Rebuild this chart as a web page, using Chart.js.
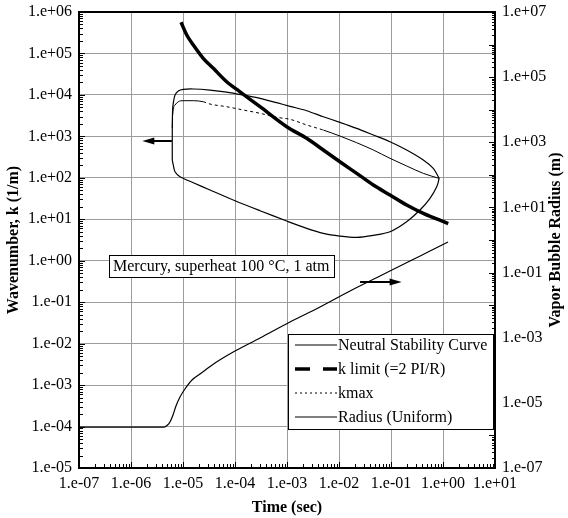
<!DOCTYPE html>
<html>
<head>
<meta charset="utf-8">
<style>
  html, body { margin: 0; padding: 0; background: #fff; overflow: hidden; }
  canvas { display: block; }
</style>
<script src="https://cdn.jsdelivr.net/npm/chart.js@4.4.1/dist/chart.umd.min.js"></script>
</head>
<body>
<canvas id="bubbleChart" width="568" height="518"></canvas>
<script>
// axis ticks (Excel style "1.e+00" labels)
const timeTicks = [1e-7, 1e-6, 1e-5, 1e-4, 1e-3, 1e-2, 1e-1, 1e0, 1e1];
const timeTickLabels = ['1.e-07', '1.e-06', '1.e-05', '1.e-04', '1.e-03', '1.e-02', '1.e-01', '1.e+00', '1.e+01'];
const kTicks = [1e-5, 1e-4, 1e-3, 1e-2, 1e-1, 1e0, 1e1, 1e2, 1e3, 1e4, 1e5, 1e6];
const kTickLabels = ['1.e-05', '1.e-04', '1.e-03', '1.e-02', '1.e-01', '1.e+00', '1.e+01', '1.e+02', '1.e+03', '1.e+04', '1.e+05', '1.e+06'];
const radiusTicks = [1e-7, 1e-5, 1e-3, 1e-1, 1e1, 1e3, 1e5, 1e7];
const radiusTickLabels = ['1.e-07', '1.e-05', '1.e-03', '1.e-01', '1.e+01', '1.e+03', '1.e+05', '1.e+07'];

// neutral stability curve: closed loop, upper branch out then lower branch back
const neutralTime = [6.22e-6, 6.22e-6, 6.31e-6, 6.50e-6, 7.02e-6, 8.12e-6, 1.01e-5, 1.58e-5, 3.30e-5, 6.92e-5,
  1.68e-4, 3.03e-4, 6.34e-4, 1.14e-3, 2.39e-3, 4.99e-3, 1.04e-2, 2.19e-2, 4.57e-2, 9.57e-2,
  0.200, 0.418, 0.650, 0.812, 0.84, 0.757, 0.562, 0.361, 0.200, 9.57e-2,
  4.57e-2, 2.19e-2, 1.04e-2, 4.99e-3, 2.39e-3, 9.87e-4, 3.03e-4, 1.0e-4, 3.30e-5, 1.58e-5,
  8.75e-6, 7.02e-6, 6.50e-6, 6.22e-6];
const neutralK = [269, 1422, 4322, 6270, 9950, 12400, 13600, 13900, 13100, 11700,
  9570, 8280, 6490, 5310, 4160, 2980, 2180, 1560, 1080, 743,
  469, 269, 169, 106, 97, 61.0, 32.0, 16.7, 8.73, 5.01,
  4.10, 3.66, 3.94, 4.58, 6.05, 9.08, 16.1, 28.0, 50.8, 76.2,
  106, 140, 204, 269];

// k limit (=2 PI/R)
const kLimitTime = [9.16e-6, 1.18e-5, 1.58e-5, 2.45e-5, 3.83e-5, 6.92e-5, 1.25e-4, 3.03e-4, 9.87e-4, 2.39e-3,
  4.99e-3, 1.04e-2, 2.19e-2, 4.57e-2, 9.57e-2, 0.200, 0.418, 1.26];
const kLimitK = [5.65e5, 2.79e5, 1.60e5, 7.64e4, 4.38e4, 2.08e4, 1.19e4, 5190, 1710, 897,
  469, 244, 128, 67.0, 38.5, 22.1, 13.9, 7.89];

// kmax
const kmaxTime = [6.22e-6, 6.31e-6, 7.02e-6, 8.12e-6, 1.01e-5, 1.58e-5, 2.45e-5, 3.30e-5, 6.92e-5, 1.45e-4,
  3.03e-4, 6.34e-4, 1.14e-3, 2.39e-3, 4.99e-3, 1.04e-2, 2.19e-2, 4.57e-2, 9.57e-2, 0.200,
  0.418, 0.84];
const kmaxK = [1590, 3270, 5700, 6850, 7250, 7250, 6850, 6030, 5190, 4320,
  3600, 2880, 2580, 1880, 1420, 1020, 703, 469, 295, 193,
  128, 97];

// bubble radius (right axis, m)
const radiusTime = [1e-7, 4.32e-6, 4.92e-6, 5.62e-6, 6.42e-6, 7.33e-6, 8.75e-6, 1.09e-5, 1.49e-5, 2.12e-5,
  4.12e-5, 1e-4, 3.03e-4, 1.14e-3, 4.31e-3, 1.63e-2, 6.14e-2, 0.232, 0.562, 1.25];
const radiusM = [1.8e-6, 1.8e-6, 2.01e-6, 2.58e-6, 4.24e-6, 8.0e-6, 1.51e-5, 2.66e-5, 5.02e-5, 7.67e-5,
  1.67e-4, 3.91e-4, 9.8e-4, 3.03e-3, 8.77e-3, 2.72e-2, 7.84e-2, 0.226, 0.459, 0.867];

const serif = "'Liberation Serif', 'Times New Roman', serif";
const gridColor = '#9c9c9c';

function toPoints(xs, ys) {
	return xs.map((x, i) => ({ x: x, y: ys[i] }));
}

// legend entries: line sample style for each
const legendItems = [
	{ text: 'Neutral Stability Curve', width: 1.2, dash: [] },
	{ text: 'k limit (=2 PI/R)', width: 3.5, dash: [15, 13] },
	{ text: 'kmax', width: 1, dash: [2, 3] },
	{ text: 'Radius (Uniform)', width: 1.2, dash: [] }
];

// arrows pointing to the axis each curve group belongs to (data units)
const arrows = [
	{ axis: 'y', from: [6.1e-6, 773], to: [1.65e-6, 773] },
	{ axis: 'y2', from: [0.0254, 0.0513], to: [0.16, 0.0513] }
];

function logTickList(min, max) {
	const out = [];
	const lo = Math.round(Math.log10(min)), hi = Math.round(Math.log10(max));
	for (let e = lo; e <= hi; e++) {
		for (let m = 1; m <= 9; m++) {
			const v = m * Math.pow(10, e);
			if (v >= min * 0.999 && v <= max * 1.001) out.push({ v: v, major: m === 1 });
		}
	}
	return out;
}

// keep the plot frame at a fixed place: no extra room for half tick labels
function fixVertical(width) {
	return s => {
		s.width = width;
		s.paddingTop = 0;
		s.paddingBottom = 0;
	};
}

const decorations = {
	id: 'decorations',
	afterDatasetsDraw(chart) {
		const { ctx, chartArea: a, scales } = chart;
		ctx.save();

		// frame top edge
		ctx.strokeStyle = '#000';
		ctx.lineWidth = 2;
		ctx.beginPath();
		ctx.moveTo(a.left - 1, a.top);
		ctx.lineTo(a.right + 1, a.top);
		ctx.stroke();

		// inward tick marks
		ctx.lineWidth = 1;
		ctx.beginPath();
		logTickList(scales.x.min, scales.x.max).forEach(t => {
			const px = Math.round(scales.x.getPixelForValue(t.v)) + 0.5;
			ctx.moveTo(px, a.bottom);
			ctx.lineTo(px, a.bottom - (t.major ? 6 : 4));
		});
		logTickList(scales.y.min, scales.y.max).forEach(t => {
			const py = Math.round(scales.y.getPixelForValue(t.v)) + 0.5;
			ctx.moveTo(a.left, py);
			ctx.lineTo(a.left + (t.major ? 6 : 4), py);
		});
		logTickList(scales.y2.min, scales.y2.max).forEach(t => {
			const py = Math.round(scales.y2.getPixelForValue(t.v)) + 0.5;
			ctx.moveTo(a.right, py);
			ctx.lineTo(a.right - (t.major ? 6 : 3), py);
		});
		ctx.stroke();

		// arrows
		ctx.fillStyle = '#000';
		arrows.forEach(ar => {
			const yS = scales[ar.axis];
			const x0 = scales.x.getPixelForValue(ar.from[0]), y0 = yS.getPixelForValue(ar.from[1]);
			const x1 = scales.x.getPixelForValue(ar.to[0]), y1 = yS.getPixelForValue(ar.to[1]);
			const dir = Math.sign(x1 - x0);
			ctx.lineWidth = 2;
			ctx.beginPath();
			ctx.moveTo(x0, y0);
			ctx.lineTo(x1 - dir * 8, y1);
			ctx.stroke();
			ctx.beginPath();
			ctx.moveTo(x1, y1);
			ctx.lineTo(x1 - dir * 12, y1 - 3.5);
			ctx.lineTo(x1 - dir * 12, y1 + 3.5);
			ctx.closePath();
			ctx.fill();
		});

		// note box
		ctx.font = '16px ' + serif;
		ctx.textBaseline = 'middle';
		ctx.textAlign = 'left';
		const nx = a.left + 30, ny = a.top + 243;
		ctx.fillStyle = '#fff';
		ctx.fillRect(nx, ny, 225, 22);
		ctx.lineWidth = 1;
		ctx.strokeStyle = '#000';
		ctx.strokeRect(nx + 0.5, ny + 0.5, 225, 22);
		ctx.fillStyle = '#000';
		ctx.fillText('Mercury, superheat 100 °C, 1 atm', nx + 4, ny + 12);

		// legend
		const lx = a.right - 207, ly = a.top + 322;
		ctx.fillStyle = '#fff';
		ctx.fillRect(lx, ly, 205, 95);
		ctx.strokeRect(lx + 0.5, ly + 0.5, 205, 95);
		legendItems.forEach((it, i) => {
			const cy = ly + 11 + i * 24;
			ctx.lineWidth = it.width;
			ctx.setLineDash(it.dash);
			ctx.beginPath();
			ctx.moveTo(lx + 7, cy);
			ctx.lineTo(lx + 49, cy);
			ctx.stroke();
			ctx.setLineDash([]);
			ctx.fillStyle = '#000';
			ctx.fillText(it.text, lx + 50, cy + 1);
		});

		// right axis title reads bottom to top like the left one
		ctx.font = 'bold 16px ' + serif;
		ctx.textAlign = 'center';
		ctx.translate(556, (a.top + a.bottom) / 2);
		ctx.rotate(-Math.PI / 2);
		ctx.fillText('Vapor Bubble Radius (m)', 0, 0);

		ctx.restore();
	}
};

Chart.defaults.font.family = serif;
Chart.defaults.font.size = 16;
Chart.defaults.color = '#000';

const lineBase = { showLine: true, pointRadius: 0, borderColor: '#000', fill: false };

new Chart(document.getElementById('bubbleChart').getContext('2d'), {
	type: 'scatter',
	data: {
		datasets: [
			Object.assign({}, lineBase, {
				label: 'Neutral Stability Curve',
				data: toPoints(neutralTime, neutralK),
				borderWidth: 1.2,
				tension: 0.3,
				yAxisID: 'y'
			}),
			Object.assign({}, lineBase, {
				label: 'k limit (=2 PI/R)',
				data: toPoints(kLimitTime, kLimitK),
				borderWidth: 3.5,
				cubicInterpolationMode: 'monotone',
				yAxisID: 'y'
			}),
			Object.assign({}, lineBase, {
				label: 'kmax',
				data: toPoints(kmaxTime, kmaxK),
				borderWidth: 1,
				cubicInterpolationMode: 'monotone',
				segment: {
					borderDash: c => (c.p0DataIndex >= 6 && c.p0DataIndex < 14 ? [3, 3] : [])
				},
				yAxisID: 'y'
			}),
			Object.assign({}, lineBase, {
				label: 'Radius (Uniform)',
				data: toPoints(radiusTime, radiusM),
				borderWidth: 1.2,
				cubicInterpolationMode: 'monotone',
				yAxisID: 'y2'
			})
		]
	},
	options: {
		responsive: false,
		animation: false,
		layout: { padding: { top: 12 } },
		plugins: {
			legend: { display: false },
			tooltip: { enabled: false }
		},
		scales: {
			x: {
				type: 'logarithmic',
				position: 'bottom',
				min: 1e-7,
				max: 1e1,
				afterBuildTicks: s => { s.ticks = timeTicks.map(v => ({ value: v })); },
				afterFit: s => { s.height = 50; },
				ticks: { autoSkip: false, maxRotation: 0, padding: 6, callback: (v, i) => timeTickLabels[i] },
				grid: { color: gridColor, lineWidth: 1, drawTicks: false },
				border: { color: '#000', width: 2 },
				title: { display: true, text: 'Time (sec)', font: { size: 16, weight: 'bold' }, padding: { top: 0, bottom: 1 } }
			},
			y: {
				type: 'logarithmic',
				position: 'left',
				min: 1e-5,
				max: 1e6,
				afterBuildTicks: s => { s.ticks = kTicks.map(v => ({ value: v })); },
				afterFit: fixVertical(79),
				ticks: { autoSkip: false, padding: 7, callback: (v, i) => kTickLabels[i] },
				grid: { color: gridColor, lineWidth: 1, drawTicks: false },
				border: { color: '#000', width: 2 },
				title: { display: true, text: 'Wavenumber, k (1/m)', font: { size: 16, weight: 'bold' }, padding: { top: 4, bottom: 0 } }
			},
			y2: {
				type: 'logarithmic',
				position: 'right',
				min: 1e-7,
				max: 1e7,
				afterBuildTicks: s => { s.ticks = radiusTicks.map(v => ({ value: v })); },
				afterFit: fixVertical(73),
				ticks: { autoSkip: false, padding: 7, callback: (v, i) => radiusTickLabels[i] },
				grid: { drawOnChartArea: false, drawTicks: false },
				border: { color: '#000', width: 2 }
			}
		}
	},
	plugins: [decorations]
});
</script>
</body>
</html>
